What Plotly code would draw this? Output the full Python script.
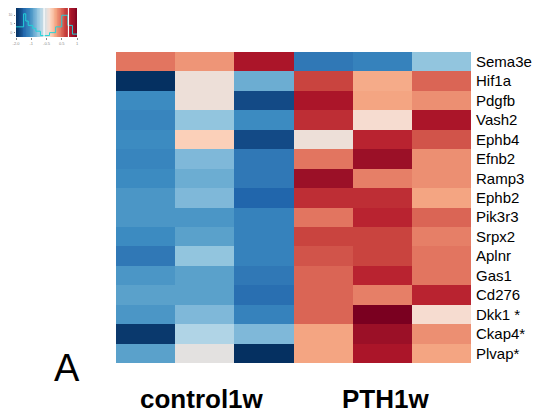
import numpy as np
import plotly.graph_objects as go

genes = ["Sema3e", "Hif1a", "Pdgfb", "Vash2", "Ephb4", "Efnb2", "Ramp3", "Ephb2",
         "Pik3r3", "Srpx2", "Aplnr", "Gas1", "Cd276", "Dkk1 *", "Ckap4*", "Plvap*"]
samples = ["control1w_1", "control1w_2", "control1w_3", "PTH1w_1", "PTH1w_2", "PTH1w_3"]
groups = ["control1w", "PTH1w"]

z_values = [
    [0.45, 0.35, 0.80, -0.65, -0.60, -0.30],
    [-1.00, 0.05, -0.40, 0.60, 0.28, 0.50],
    [-0.55, 0.05, -0.85, 0.80, 0.30, 0.37],
    [-0.58, -0.30, -0.55, 0.68, 0.10, 0.80],
    [-0.55, 0.15, -0.85, 0.05, 0.72, 0.55],
    [-0.58, -0.35, -0.65, 0.45, 0.88, 0.37],
    [-0.55, -0.40, -0.65, 0.88, 0.42, 0.37],
    [-0.50, -0.35, -0.75, 0.68, 0.68, 0.30],
    [-0.50, -0.50, -0.60, 0.45, 0.72, 0.50],
    [-0.55, -0.45, -0.60, 0.60, 0.60, 0.42],
    [-0.65, -0.30, -0.60, 0.55, 0.60, 0.45],
    [-0.50, -0.45, -0.65, 0.50, 0.72, 0.45],
    [-0.45, -0.45, -0.70, 0.50, 0.42, 0.72],
    [-0.50, -0.35, -0.60, 0.50, 1.00, 0.10],
    [-0.95, -0.20, -0.35, 0.30, 0.88, 0.37],
    [-0.45, 0.00, -1.00, 0.30, 0.80, 0.30],
]

# colour key
key_values = list(np.linspace(-1, 1, 80))
key_ticks = [-1.0, -0.5, 0.0, 0.5, 1.0]
key_tick_text = ["-2.0", "-1", "-0.5", "0.5", "1"]
density_x = [-1.0, -0.75, -0.75, -0.68, -0.68, -0.6, -0.6, -0.45, -0.45, -0.35, -0.35, -0.2,
             -0.2, 0.1, 0.1, 0.3, 0.3, 0.5, 0.5, 0.7, 0.7, 0.85, 0.85, 1.0]
density_y = [0.35, 0.35, 0.8, 0.8, 0.55, 0.55, 0.4, 0.4, 0.3, 0.3, 0.2, 0.2,
             0.05, 0.05, 0.15, 0.15, 0.35, 0.35, 0.75, 0.75, 0.4, 0.4, 0.1, 0.1]
key_lines = [-0.08, 0.72]
key_y_ticks = [0.15, 0.45, 0.75]
key_y_text = ["0", "5", "10"]

cs_pts = [(-1.0, "#053061"), (-0.85, "#134a86"), (-0.75, "#2166ac"), (-0.65, "#3078b6"),
          (-0.55, "#3c8bc1"), (-0.45, "#5aa1cb"), (-0.35, "#7fb8d9"), (-0.3, "#92c5de"),
          (-0.2, "#b0d4e6"), (0.0, "#e3e1e0"), (0.1, "#f6dcd0"), (0.15, "#fbd0b9"),
          (0.3, "#f4a582"), (0.45, "#e27560"), (0.6, "#c9443f"), (0.72, "#b92330"),
          (0.8, "#ab1529"), (0.88, "#9b1027"), (1.0, "#7a0020")]
colorscale = [[(v + 1) / 2, c] for v, c in cs_pts]

fig = go.Figure()
fig.add_trace(go.Heatmap(
    z=z_values, x=samples, y=genes, colorscale=colorscale, zmin=-1, zmax=1,
    showscale=False, xaxis="x", yaxis="y", hoverinfo="x+y+z"))

fig.add_trace(go.Heatmap(
    z=[key_values], x=key_values, y=[0.5], colorscale=colorscale, zmin=-1, zmax=1,
    showscale=False, xaxis="x2", yaxis="y2", hoverinfo="skip"))
fig.add_trace(go.Scatter(
    x=density_x, y=density_y, mode="lines", line=dict(color="#22d3d8", width=1),
    xaxis="x2", yaxis="y2", hoverinfo="skip", showlegend=False))
for v in key_lines:
    fig.add_trace(go.Scatter(
        x=[v, v], y=[0, 1], mode="lines", line=dict(color="white", width=1.2),
        xaxis="x2", yaxis="y2", hoverinfo="skip", showlegend=False))

# page body has an 8px margin; figure fills the rest of the window
OFF = 8
W, H = 541 - OFF, 417 - OFF


def px(x):
    return (x - OFF) / W


def py(y):
    return min(1, 1 - (y - OFF) / H)


fig.update_layout(
    width=W, height=H, margin=dict(l=0, r=0, t=0, b=0, autoexpand=False),
    paper_bgcolor="white", plot_bgcolor="white", showlegend=False,
    font=dict(family="Liberation Sans, Arial, sans-serif", color="black"),
    xaxis=dict(domain=[px(116), px(471)], showticklabels=False, ticks="",
               showgrid=False, zeroline=False, automargin=False),
    yaxis=dict(domain=[py(363), py(52)], autorange="reversed", side="right",
               tickfont=dict(size=15, color="black"), ticks="", ticklabelstandoff=4,
               showgrid=False, zeroline=False, automargin=False),
    xaxis2=dict(domain=[px(16), px(77)], anchor="y2", range=[-1, 1],
                tickvals=key_ticks, ticktext=key_tick_text, ticks="outside", ticklen=2,
                tickcolor="#888", tickfont=dict(size=4, color="#888"),
                showgrid=False, zeroline=False, automargin=False),
    yaxis2=dict(domain=[py(37), py(8)], anchor="x2", range=[0, 1],
                tickvals=key_y_ticks, ticktext=key_y_text,
                ticks="outside", ticklen=1, tickcolor="#888", ticklabelstandoff=1,
                tickfont=dict(size=3.5, color="#888"), showgrid=False, zeroline=False,
                automargin=False),
)

group_pos = [samples[1], samples[4]]
group_shift = [-3, 3]
for g, xp, sh in zip(groups, group_pos, group_shift):
    fig.add_annotation(x=xp, xref="x", y=py(399), yref="paper", text=f"<b>{g}</b>",
                       showarrow=False, font=dict(size=26, color="black"), xshift=sh,
                       xanchor="center", yanchor="middle")
fig.add_annotation(x=px(67), xref="paper", y=py(368), yref="paper", text="A",
                   showarrow=False, font=dict(size=38, color="black"),
                   xanchor="center", yanchor="middle")

fig.write_html("out.html")
